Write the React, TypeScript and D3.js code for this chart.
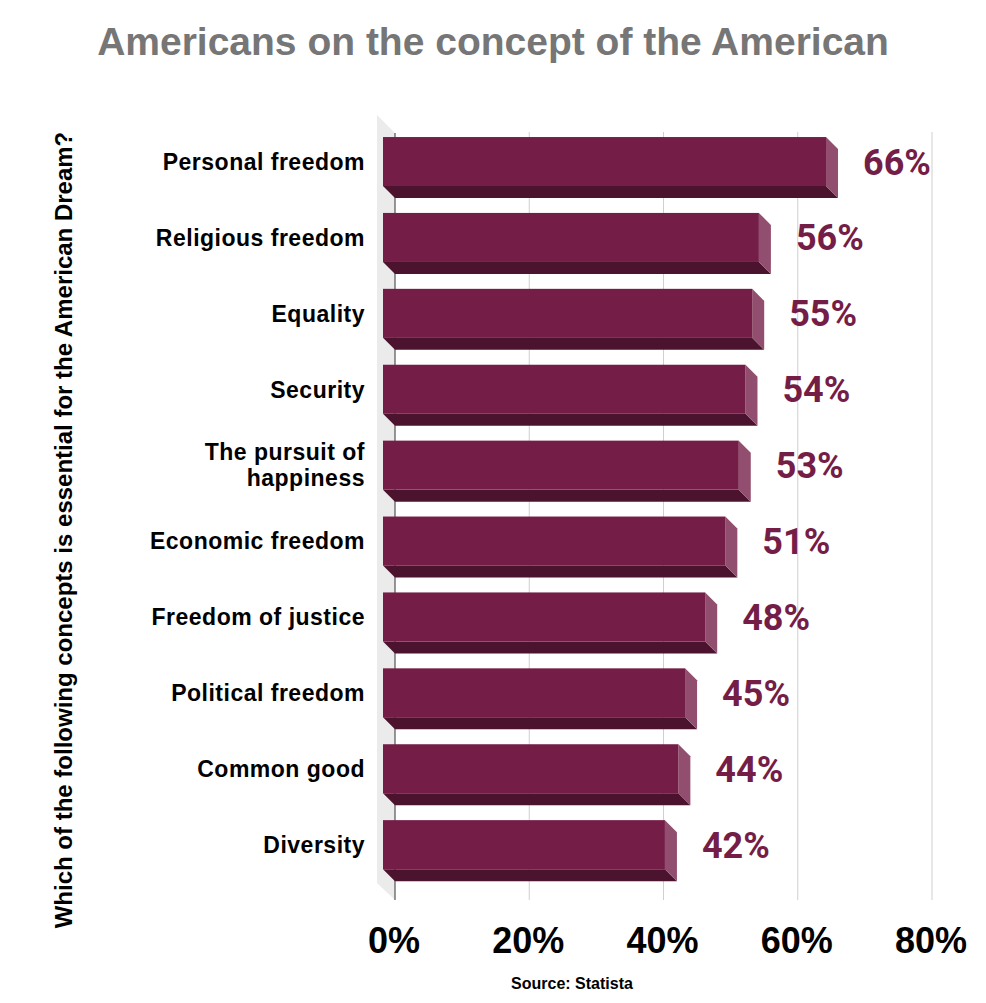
import React from "react";
import * as d3 from "d3";

const categories = [
  "Personal freedom",
  "Religious freedom",
  "Equality",
  "Security",
  "The pursuit of happiness",
  "Economic freedom",
  "Freedom of justice",
  "Political freedom",
  "Common good",
  "Diversity",
];
const values = [66, 56, 55, 54, 53, 51, 48, 45, 44, 42];
const ticks = [0, 20, 40, 60, 80];
const labelLines: Record<string, string[]> = {
  "The pursuit of happiness": ["The pursuit of", "happiness"],
};

const W = 986;
const H = 1003;
const DEPTH = 12;
const FRONT = "#741d47";
const BOTTOM = "#4b132e";
const SIDE = "#924e6e";

export default function App() {
  const x = d3.scaleLinear().domain([0, 80]).range([395, 932]);
  const y = d3
    .scaleBand<string>()
    .domain(categories)
    .range([123.6, 882.6])
    .paddingInner(0.354)
    .paddingOuter(0.177);
  const bh = y.bandwidth();
  const arial = "'Liberation Sans', Arial, sans-serif";

  return (
    <svg width={W} height={H} style={{ position: "absolute", left: 0, top: 0 }}>
      <rect width={W} height={H} fill="#fff" />
      <text
        x={493}
        y={55}
        textAnchor="middle"
        fontFamily={arial}
        fontWeight="bold"
        fontSize={39}
        fill="#767676"
      >
        Americans on the concept of the American
      </text>
      {/* wall */}
      <polygon points="377,115 395,133 395,900 377,883" fill="#ebebeb" />
      {/* gridlines */}
      {ticks.slice(1).map((t) => (
        <line key={t} x1={x(t)} x2={x(t)} y1={132} y2={900} stroke="#cfcfcf" strokeWidth={1} />
      ))}
      <line x1={x(0)} x2={x(0)} y1={133} y2={900} stroke="#333" strokeWidth={1} />
      {/* bars */}
      {categories.map((c, i) => {
        const v = values[i];
        const y0 = y(c)!;
        const xl = x(0) - DEPTH;
        const xr = x(v) - DEPTH;
        const y1 = y0 + bh;
        return (
          <g key={c}>
            <polygon
              points={`${xl},${y1} ${xr},${y1} ${xr + DEPTH},${y1 + DEPTH} ${xl + DEPTH},${y1 + DEPTH}`}
              fill={BOTTOM}
            />
            <polygon
              points={`${xr},${y0} ${xr + DEPTH},${y0 + DEPTH} ${xr + DEPTH},${y1 + DEPTH} ${xr},${y1}`}
              fill={SIDE}
            />
            <rect x={xl} y={y0} width={xr - xl} height={bh} fill={FRONT} />
            <text
              x={xr + DEPTH + 25}
              y={y0 + bh / 2}
              dy="0.36em"
              fontFamily="Roboto, sans-serif"
              fontWeight="bold"
              fontSize={36}
              fill={FRONT}
            >
              {v}%
            </text>
            {(() => {
              const lines = labelLines[c] || [c];
              const lh = 26;
              const start = y0 + bh / 2 - ((lines.length - 1) * lh) / 2;
              return (
                <text
                  textAnchor="end"
                  fontFamily={arial}
                  fontWeight="bold"
                  fontSize={23}
                  letterSpacing={0.5}
                  fill="#000"
                >
                  {lines.map((l, k) => (
                    <tspan key={k} x={365} y={start + k * lh} dy="0.36em">
                      {l}
                    </tspan>
                  ))}
                </text>
              );
            })()}
          </g>
        );
      })}
      {/* tick labels */}
      {ticks.map((t) => (
        <text
          key={t}
          x={x(t) - 1}
          y={953}
          textAnchor="middle"
          fontFamily={arial}
          fontWeight="bold"
          fontSize={36}
          fill="#000"
        >
          {t}%
        </text>
      ))}
      <text
        transform={`translate(72,530) rotate(-90)`}
        textAnchor="middle"
        fontFamily={arial}
        fontWeight="bold"
        fontSize={24}
        fill="#000"
      >
        Which of the following concepts is essential for the American Dream?
      </text>
      <text
        x={572}
        y={989}
        textAnchor="middle"
        fontFamily={arial}
        fontWeight="bold"
        fontSize={16}
        fill="#000"
      >
        Source: Statista
      </text>
    </svg>
  );
}
